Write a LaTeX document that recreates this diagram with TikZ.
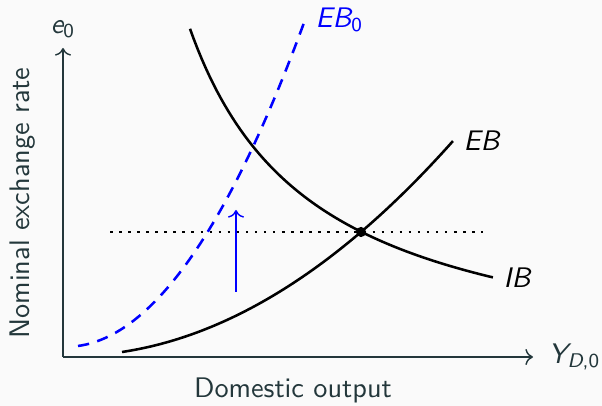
\documentclass[tikz,border=0pt]{standalone}
\usepackage{amsmath}
\usepackage{xcolor}
\usepackage{tikz}
\usetikzlibrary{arrows.meta,positioning}
\definecolor{slideBg}{HTML}{FAFAFA}
\definecolor{slideText}{HTML}{23373B}
\definecolor{ebBlue}{RGB}{0,0,255}
\newcommand{\itsub}[2]{{\itshape #1}\textsubscript{#2}}

\begin{document}
\sffamily
\begin{tikzpicture}[x=0.3535pt,y=0.3535pt,
    lbl/.style={text=slideText, font=\sffamily},
    curve/.style={black, line width=0.9pt}]
    \fill[slideBg] (0,0) rectangle (602,406);
    \useasboundingbox (0,0) rectangle (602,406);

    % axes
    \coordinate (O) at (63,49);
    \coordinate (yend) at (63,358);
    \coordinate (xend) at (533,49);
    \draw[slideText, line width=0.5pt, ->] (O) -- (yend);
    \draw[slideText, line width=0.5pt, ->] (O) -- (xend);
    \node[lbl, above=0pt of yend] (ylab) {\itsub{e}{0}};
    \node[lbl, right=2pt of xend] (xlab) {\itsub{Y}{{\itshape D},0}};
    \node[lbl, rotate=90] (ytitle) at (23,203) {Nominal exchange rate};
    \node[lbl] (xtitle) at (293,16) {Domestic output};

    % horizontal reference at the equilibrium
    \coordinate (dotL) at (110,174);
    \coordinate (dotR) at (483,174);
    \draw[black, line width=0.9pt, dash pattern=on 0.9pt off 2.3pt] (dotL) -- (dotR);

    % shifted external balance
    \draw[ebBlue, line width=0.9pt, dash pattern=on 4pt off 3pt]
        plot[domain=0:2.27, samples=60, variable=\t] ({78+100*\t}, {60+13.866*\t+57.156*\t*\t})
        node[right, text=ebBlue] (ebzero) {\itsub{EB}{0}};

    % external balance
    \draw[curve]
        plot[domain=0:3.31, samples=60, variable=\t] ({122+100*\t}, {54+15.04*\t+14.715*\t*\t})
        node[right, text=black] (eb) {\itshape EB};

    % internal balance
    \draw[curve]
        plot[domain=1.25:4.28, samples=80, variable=\t] ({65+100*\t}, {26+439/\t})
        node[right, text=black] (ib) {\itshape IB};

    % equilibrium point
    \node[circle, fill=black, inner sep=0pt, minimum size=3.6pt] (eq) at (361,174) {};

    % upward shift
    \coordinate (shiftFrom) at (236,114);
    \coordinate (shiftTo) at (236,196);
    \draw[ebBlue, line width=0.5pt, ->] (shiftFrom) -- (shiftTo);
\end{tikzpicture}
\end{document}
